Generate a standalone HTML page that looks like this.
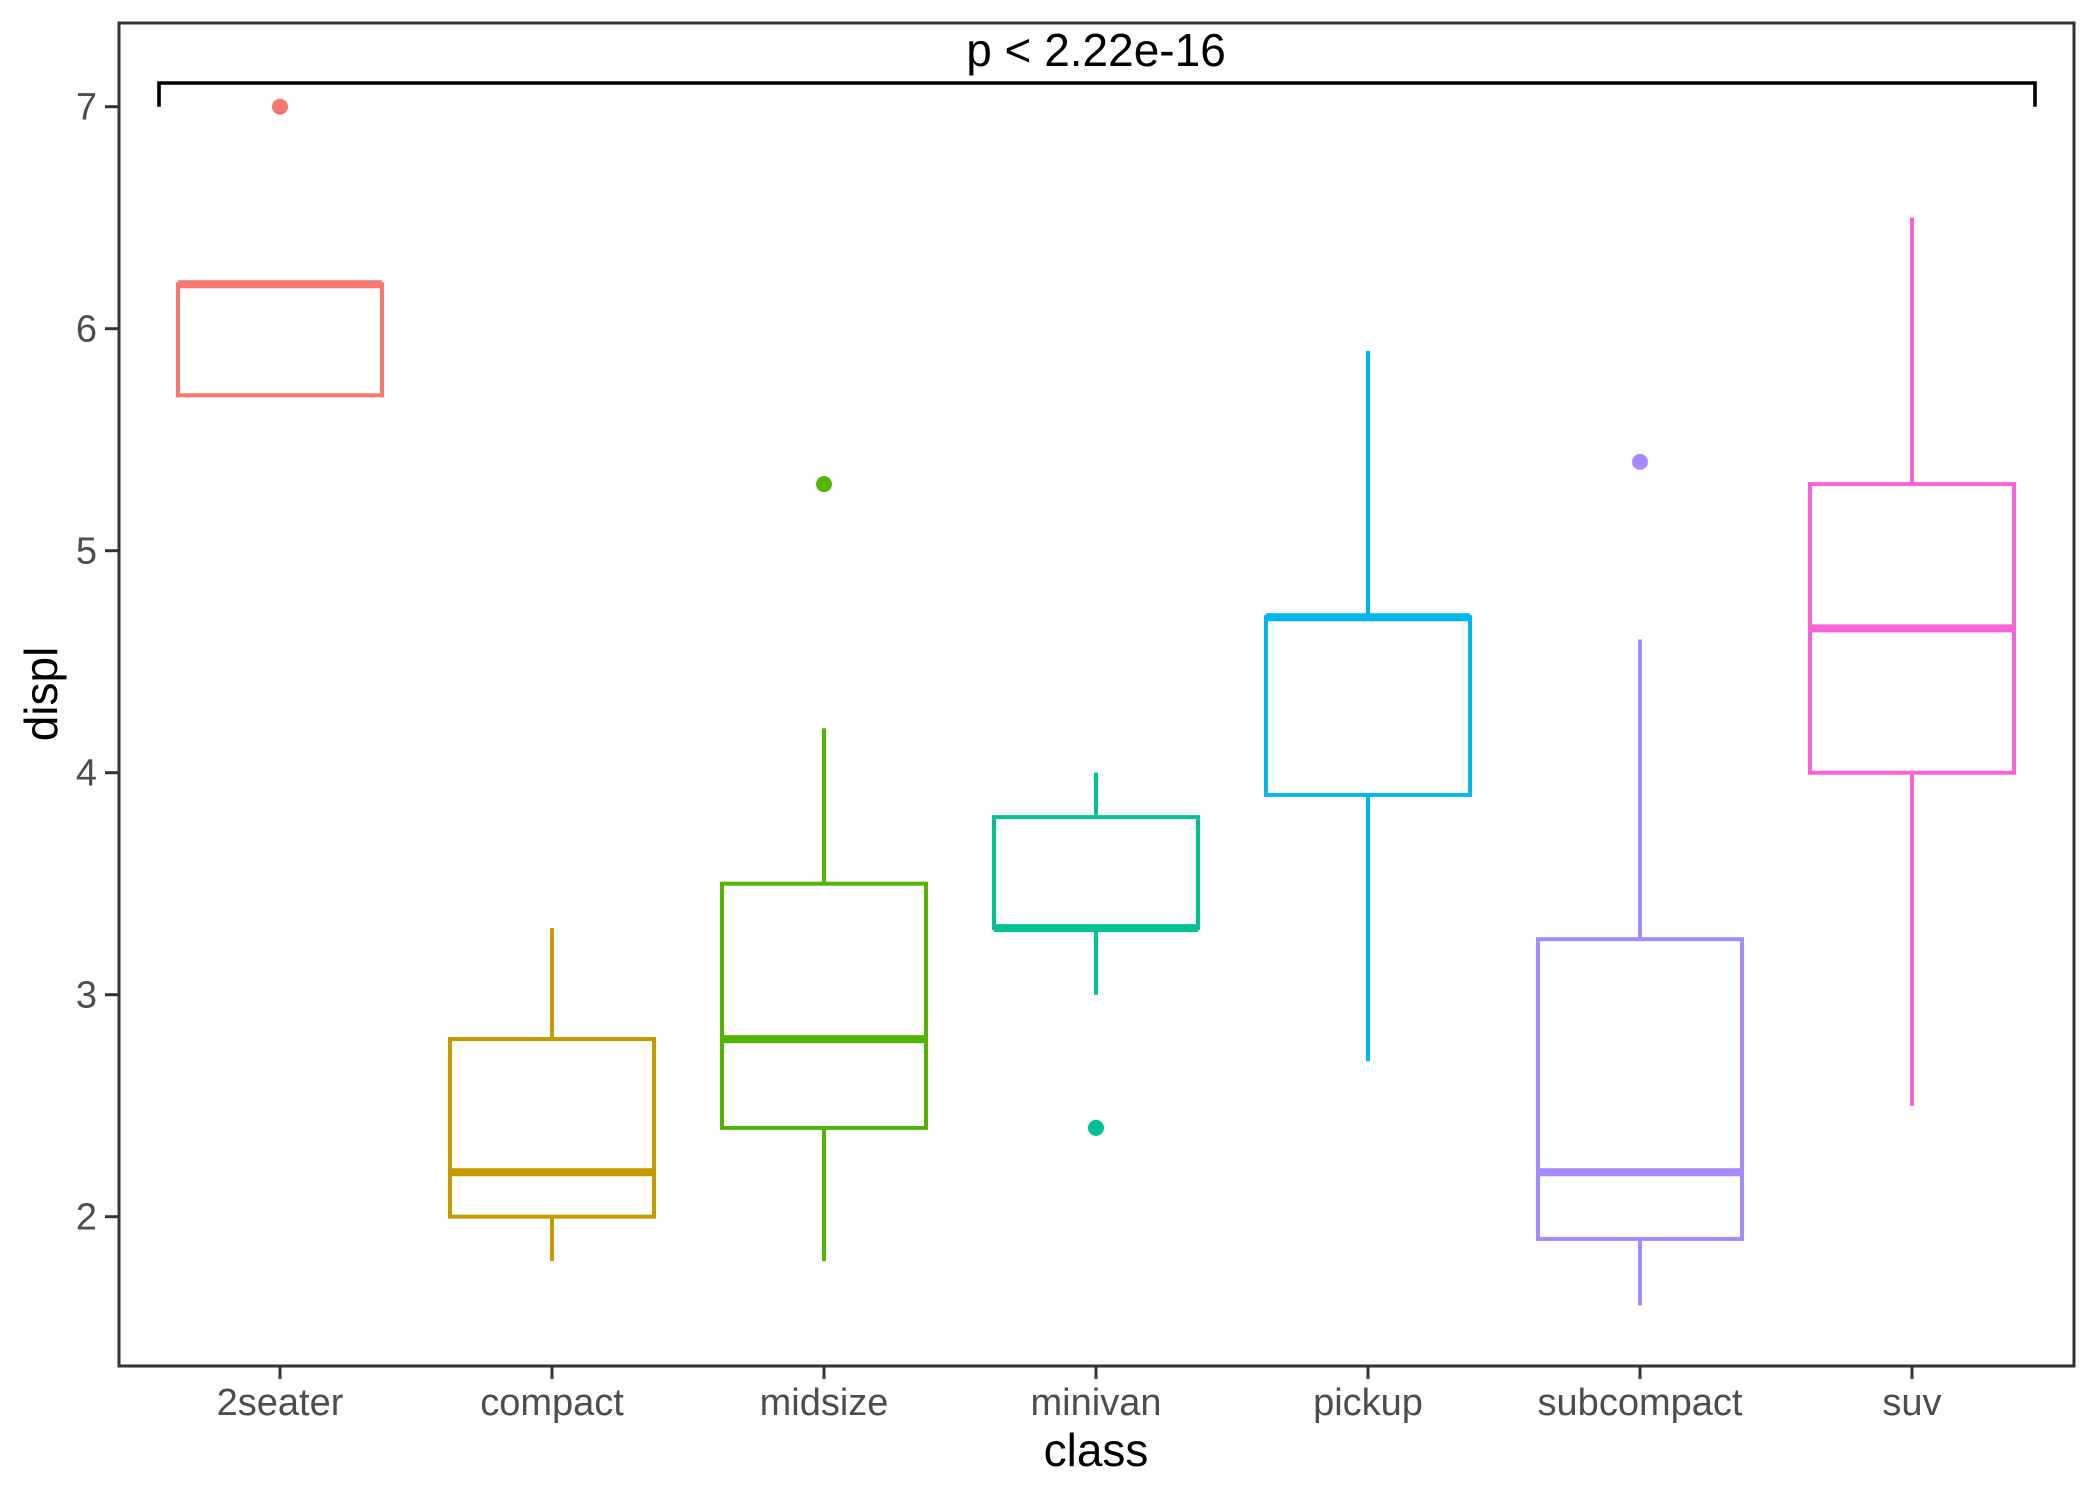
<!DOCTYPE html>
<html><head><meta charset="utf-8"><style>
html,body{margin:0;padding:0;background:#fff;}
svg{display:block;font-family:"Liberation Sans",Arial,sans-serif;}
</style></head><body>
<svg id="chart" width="2100" height="1500" viewBox="0 0 2100 1500" xmlns="http://www.w3.org/2000/svg">
<rect x="0" y="0" width="2100" height="1500" fill="#fff"/>
<g id="marks"></g>
<rect x="119" y="23" width="1955" height="1343" fill="none" stroke="#333" stroke-width="3"/>
<g id="axes"></g>
<text x="1096" y="1466" text-anchor="middle" font-size="46" fill="#000">class</text>
<text x="0" y="0" transform="translate(57,694) rotate(-90)" text-anchor="middle" font-size="46" fill="#000">displ</text>
</svg>
<script>
const categories = ["2seater","compact","midsize","minivan","pickup","subcompact","suv"];
const whiskerLow = [5.7, 1.8, 1.8, 3.0, 2.7, 1.6, 2.5];
const q1 = [5.7, 2.0, 2.4, 3.3, 3.9, 1.9, 4.0];
const median = [6.2, 2.2, 2.8, 3.3, 4.7, 2.2, 4.65];
const q3 = [6.2, 2.8, 3.5, 3.8, 4.7, 3.25, 5.3];
const whiskerHigh = [6.2, 3.3, 4.2, 4.0, 5.9, 4.6, 6.5];
const outlierCat = [0, 2, 3, 5];
const outlierVal = [7.0, 5.3, 2.4, 5.4];
const colors = ["#F8766D","#C49A00","#53B400","#00C094","#00B6EB","#A58AFF","#FB61D7"];
const yTicks = [2,3,4,5,6,7];
const pLabel = "p < 2.22e-16";

const NS = "http://www.w3.org/2000/svg";
const y0px = 1216.7, ypu = 222;
function yScale(v){ return y0px - (v-2)*ypu; }
function xScale(i){ return 280 + i*272; }
const halfW = 102;
function mk(tag, attrs, parent){
  const el = document.createElementNS(NS, tag);
  for (const k in attrs) el.setAttribute(k, attrs[k]);
  parent.appendChild(el);
  return el;
}
const marks = document.getElementById('marks');
const axes = document.getElementById('axes');

categories.forEach((c,i)=>{
  const g = mk('g', {}, marks);
  
  
  const x = xScale(i), col = colors[i];
  const wl = mk('line', {x1:x, x2:x, y1:yScale(whiskerLow[i]), y2:yScale(q1[i]), stroke:col, 'stroke-width':4}, g);
  
  
  const wh = mk('line', {x1:x, x2:x, y1:yScale(q3[i]), y2:yScale(whiskerHigh[i]), stroke:col, 'stroke-width':4}, g);
  
  
  const r = mk('rect', {x:x-halfW, y:yScale(q3[i]), width:halfW*2, height:yScale(q1[i])-yScale(q3[i]), fill:'#fff', stroke:col, 'stroke-width':4}, g);
  
  
  const m = mk('line', {x1:x-halfW, x2:x+halfW, y1:yScale(median[i]), y2:yScale(median[i]), stroke:col, 'stroke-width':8}, g);
  
  
});
outlierCat.forEach((ci,k)=>{
  const p = mk('circle', {cx:xScale(ci), cy:yScale(outlierVal[k]), r:8, fill:colors[ci]}, marks);
  
  
});

const br = mk('path', {d:`M159 ${yScale(7)} V83 H2035 V${yScale(7)}`, fill:'none', stroke:'#000', 'stroke-width':3.6}, marks);


const pt = mk('text', {x:1096, y:66, 'text-anchor':'middle', 'font-size':46, fill:'#000'}, marks);
pt.textContent = pLabel;



yTicks.forEach(v=>{
  const y = yScale(v);
  const t = mk('line', {x1:105, x2:119, y1:y, y2:y, stroke:'#333', 'stroke-width':3}, axes);
  
  
  const l = mk('text', {x:97, y:y+13, 'text-anchor':'end', 'font-size':38, fill:'#4D4D4D'}, axes);
  l.textContent = v;
  
  
});
categories.forEach((c,i)=>{
  const x = xScale(i);
  const t = mk('line', {x1:x, x2:x, y1:1366, y2:1379, stroke:'#333', 'stroke-width':3}, axes);
  
  
  const l = mk('text', {x:x, y:1415, 'text-anchor':'middle', 'font-size':38, fill:'#4D4D4D'}, axes);
  l.textContent = c;
  
  
});
</script>
</body></html>
